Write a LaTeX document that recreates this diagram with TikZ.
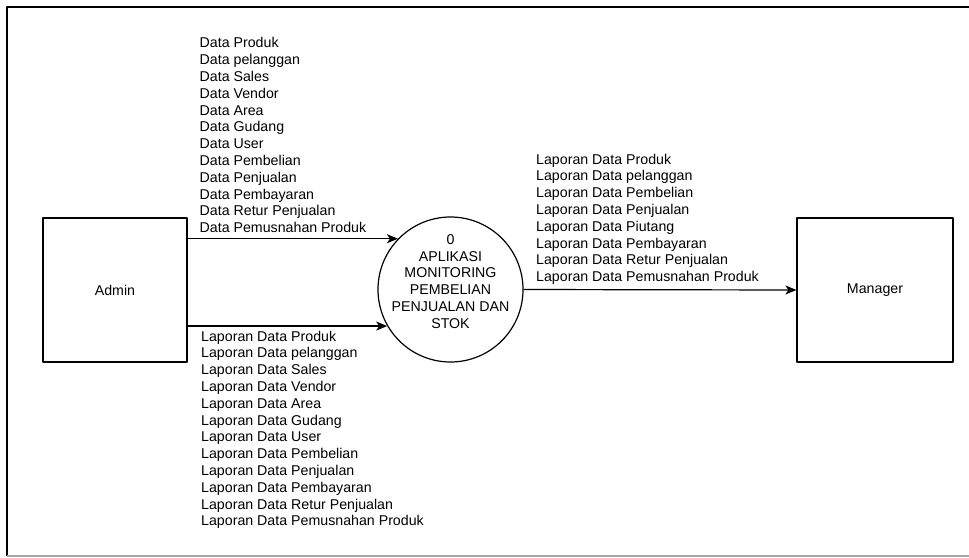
\documentclass[tikz,border=0pt]{standalone}
\usepackage{fontspec}
\setmainfont{Liberation Sans}
\usetikzlibrary{arrows.meta}
\begin{document}
\begin{tikzpicture}[x=1pt,y=-1pt,line join=round,
    every node/.style={font=\fontsize{14.2}{16.8}\selectfont},
    entity/.style={draw,line width=1.2pt,minimum width=144pt,minimum height=144pt},
    process/.style={draw,circle,line width=1.2pt,minimum size=145pt,inner sep=0pt},
    flow/.style={line width=1.2pt,-{Stealth[length=11pt,width=9pt,inset=3pt]}},
    flowtext/.style={align=left,inner sep=0pt}]
  \useasboundingbox (0,0) rectangle (969,557);
  \draw[line width=1.6pt] (969,7) -- (7,7) -- (7,556);
  \draw[line width=1.6pt,black!35] (7,556) -- (969,556);

  \node[entity] (admin) at (115,290) {Admin};
  \node[entity,minimum width=156pt] (manager) at (875,290) {Manager};
  \node[process] (proc) at (450.5,289.5) {};
  \node[align=center,inner sep=0pt] (proctext) at (450.5,281.5)
    {0\\APLIKASI\\MONITORING\\PEMBELIAN\\PENJUALAN DAN\\STOK};

  \draw[flow] (admin.east |- proc.136) -- (proc.136);
  \draw[flow] (admin.east |- proc.210) -- (proc.210);
  \draw[flow] (proc.east) -- (manager.west);

  \node[flowtext,anchor=south west] (inlist) at (199.5,233)
    {Data Produk\\Data pelanggan\\Data Sales\\Data Vendor\\Data Area\\
     Data Gudang\\Data User\\Data Pembelian\\Data Penjualan\\
     Data Pembayaran\\Data Retur Penjualan\\Data Pemusnahan Produk};
  \node[flowtext,anchor=north west] (outlist) at (201,330.7)
    {Laporan Data Produk\\Laporan Data pelanggan\\Laporan Data Sales\\
     Laporan Data Vendor\\Laporan Data Area\\Laporan Data Gudang\\
     Laporan Data User\\Laporan Data Pembelian\\Laporan Data Penjualan\\
     Laporan Data Pembayaran\\Laporan Data Retur Penjualan\\
     Laporan Data Pemusnahan Produk};
  \node[flowtext,anchor=south west] (replist) at (536,284.8)
    {Laporan Data Produk\\Laporan Data pelanggan\\Laporan Data Pembelian\\
     Laporan Data Penjualan\\Laporan Data Piutang\\Laporan Data Pembayaran\\
     Laporan Data Retur Penjualan\\Laporan Data Pemusnahan Produk};
\end{tikzpicture}
\end{document}
